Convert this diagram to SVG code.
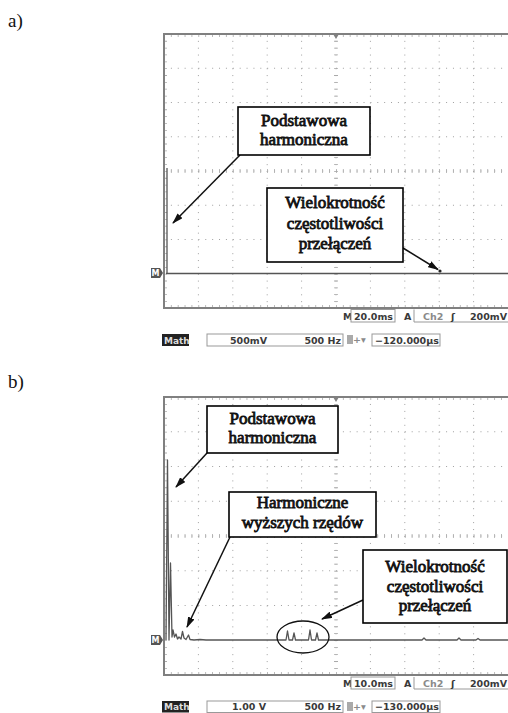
<svg xmlns="http://www.w3.org/2000/svg" width="508" height="713" viewBox="0 0 508 713">
<style>
.bg{fill:#fff}
.frame{fill:none;stroke:#808080;stroke-width:2}
.hg{stroke:#a0a0a0;stroke-width:1;stroke-dasharray:1 5.88;fill:none}
.vga{stroke:#a0a0a0;stroke-width:1;stroke-dasharray:1 5.85;fill:none}
.vgb{stroke:#a0a0a0;stroke-width:1;stroke-dasharray:1 5.95;fill:none}
.htick{stroke:#aaa;stroke-width:4;stroke-dasharray:0.8 6.08;fill:none}
.vticka{stroke:#aaa;stroke-width:4;stroke-dasharray:0.8 6.05;fill:none}
.vtickb{stroke:#aaa;stroke-width:4;stroke-dasharray:0.8 6.15;fill:none}
.etick{stroke:#aaa;stroke-width:3;stroke-dasharray:0.8 6.08;fill:none}
.eticka{stroke:#aaa;stroke-width:3;stroke-dasharray:0.8 6.05;fill:none}
.etickb{stroke:#aaa;stroke-width:3;stroke-dasharray:0.8 6.15;fill:none}
.trace{stroke:#555;stroke-width:1.3;fill:none;stroke-linejoin:round}
.box{fill:#fff;stroke:#000;stroke-width:1.6}
.lbl{font-family:"Liberation Serif","Times New Roman",serif;font-weight:normal;font-size:17px;fill:#111;stroke:#111;stroke-width:0.8;text-anchor:middle}
.cap{font-family:"Liberation Serif","Times New Roman",serif;font-size:19px;fill:#111}
.st{font-family:"DejaVu Sans",Verdana,sans-serif;font-weight:bold;font-size:9.5px;fill:#3a3a3a}
.stl{font-family:"DejaVu Sans",Verdana,sans-serif;font-weight:bold;font-size:9.5px;fill:#8a8a8a}
.sbox{fill:#fff;stroke:#999;stroke-width:1}
.math{fill:#222}
.mtxt{font-family:"DejaVu Sans",Verdana,sans-serif;font-weight:bold;font-size:9px;fill:#ddd}
.mk{fill:#555}
.mkt{font-family:"DejaVu Sans",sans-serif;font-weight:bold;font-size:8px;fill:#fff;text-anchor:middle}
.conn{stroke:#111;stroke-width:1.5;fill:none}
</style>
<defs>
<marker id="ah" markerUnits="userSpaceOnUse" markerWidth="11" markerHeight="7" refX="10" refY="3.5" orient="auto">
<path d="M0,0 L11,3.5 L0,7 z" fill="#111"/>
</marker>
</defs>
<rect class="bg" x="0" y="0" width="508" height="713"/>

<text class="cap" x="8" y="27">a)</text>
<text class="cap" x="8" y="388">b)</text>

<!-- Scope a -->
<g id="scope-a">
<g id="grid-a">
<path class="hg" d="M164,68.25H508M164,102.5H508M164,136.75H508M164,205.25H508M164,239.5H508"/>
<path class="vga" d="M198.4,34V308M232.8,34V308M267.2,34V308M301.6,34V308M370.4,34V308M404.8,34V308M439.2,34V308M473.6,34V308"/>
<path class="hg" d="M164,171H508"/>
<path class="htick" d="M164,171H508"/>
<path class="vga" d="M336,34V308"/>
<path class="vticka" d="M336,34V308"/>
<path class="etick" d="M164,35.5H508M164,306.5H508"/>
<path class="eticka" d="M165.5,34V308"/>
<rect class="frame" x="164" y="34" width="346" height="274"/>
<path d="M333,34 L339,34 L336,39 z" fill="#808080"/>
</g>
<g id="trace-a">
<path class="trace" d="M166,273.5 H508"/>
<path class="trace" d="M167,273 V168"/>
<circle cx="440" cy="271" r="1.6" fill="#222"/>
</g>
<g id="marker-a">
<path class="mk" d="M151,268 h9 l3,5 l-3,5 h-9 z"/>
<text class="mkt" x="155.5" y="276">M</text>
</g>
<g id="status-a">
<text class="st" x="343" y="320">M</text>
<rect class="sbox" x="351" y="309.5" width="44" height="12.5"/>
<text class="st" x="354" y="320">20.0ms</text>
<text class="st" x="404" y="320">A</text>
<path class="sbox" d="M414,309.5 V322 H508" fill="none"/>
<text class="stl" x="423" y="320">Ch2</text>
<text class="st" x="451" y="320">ʃ</text>
<text class="st" x="507" y="320" text-anchor="end">200mV</text>
<rect class="math" x="162" y="334" width="27" height="12"/>
<text class="mtxt" x="164" y="344">Math</text>
<rect class="sbox" x="207" y="334" width="136" height="12"/>
<text class="st" x="230" y="344">500mV</text>
<text class="st" x="341" y="344" text-anchor="end">500 Hz</text>
<rect x="347" y="335" width="6" height="9" fill="#aaa"/>
<text class="stl" x="353" y="343" font-size="8">+▾</text>
<rect class="sbox" x="372" y="334" width="68" height="12"/>
<text class="st" x="375" y="344">−120.000µs</text>
</g>
</g>

<!-- Scope b -->
<g id="scope-b">
<g id="grid-b">
<path class="hg" d="M164,431.75H508M164,466.5H508M164,501.25H508M164,570.75H508M164,605.5H508"/>
<path class="vgb" d="M198.4,397V675M232.8,397V675M267.2,397V675M301.6,397V675M370.4,397V675M404.8,397V675M439.2,397V675M473.6,397V675"/>
<path class="hg" d="M164,536H508"/>
<path class="htick" d="M164,536H508"/>
<path class="vgb" d="M336,397V675"/>
<path class="vtickb" d="M336,397V675"/>
<path class="etick" d="M164,398.5H508M164,673.5H508"/>
<path class="etickb" d="M165.5,397V675"/>
<rect class="frame" x="164" y="397" width="346" height="278"/>
<path d="M333,397 L339,397 L336,402 z" fill="#808080"/>
</g>
<g id="trace-b">
<path class="trace" d="M166,640 L167.5,460 L169,640 L170.5,563 L172,637 L173,630 L174.5,637 L176,634 L177.5,639 L179,637 L181,639 L182.5,631.5 L184,638 L186,639.5 L188.5,635 L190,639.5 L194,640 L200,639.5 L206,640 L286,640 L287.5,631 L289,640 L292.5,640 L294,633 L295.5,640 L308.5,640 L310,630 L311.5,640 L315.5,640 L317,633 L318.5,640 L422,640 L424,638 L426,640 L457,640 L459,638 L461,640 L476,640 L478,638.5 L480,640 L508,640"/>
<ellipse cx="303" cy="637" rx="26" ry="16" fill="none" stroke="#111" stroke-width="1.3"/>
</g>
<g id="marker-b">
<path class="mk" d="M151,635 h9 l3,5 l-3,5 h-9 z"/>
<text class="mkt" x="155.5" y="643">M</text>
</g>
<g id="status-b">
<text class="st" x="343" y="687">M</text>
<rect class="sbox" x="351" y="677" width="44" height="12"/>
<text class="st" x="354" y="687">10.0ms</text>
<text class="st" x="404" y="687">A</text>
<path class="sbox" d="M414,677 V689 H508" fill="none"/>
<text class="stl" x="423" y="687">Ch2</text>
<text class="st" x="451" y="687">ʃ</text>
<text class="st" x="507" y="687" text-anchor="end">200mV</text>
<rect class="math" x="162" y="701" width="27" height="11.5"/>
<text class="mtxt" x="164" y="710">Math</text>
<rect class="sbox" x="207" y="701" width="136" height="11.5"/>
<text class="st" x="232" y="710">1.00 V</text>
<text class="st" x="341" y="710" text-anchor="end">500 Hz</text>
<rect x="347" y="702" width="6" height="9" fill="#aaa"/>
<text class="stl" x="353" y="710" font-size="8">+▾</text>
<rect class="sbox" x="372" y="701" width="68" height="11.5"/>
<text class="st" x="375" y="710">−130.000µs</text>
</g>
</g>

<!-- Connectors -->
<g id="connectors">
<path class="conn" d="M240,155 L173,223" marker-end="url(#ah)"/>
<path class="conn" d="M403,248 L438,269.5" marker-end="url(#ah)"/>
<path class="conn" d="M207,453 L176,487" marker-end="url(#ah)"/>
<path class="conn" d="M230,537 L187,627" marker-end="url(#ah)"/>
<path class="conn" d="M363,600 L322,619" marker-end="url(#ah)"/>
</g>

<!-- Label nodes -->
<g id="label-a-podstawowa">
<rect class="box" x="238" y="107" width="132" height="48"/>
<text class="lbl" x="304" y="125.5">Podstawowa</text>
<text class="lbl" x="304" y="144.5">harmoniczna</text>
</g>
<g id="label-a-wielokrotnosc">
<rect class="box" x="267" y="188" width="136" height="74"/>
<text class="lbl" x="335" y="208">Wielokrotność</text>
<text class="lbl" x="335" y="228.5">częstotliwości</text>
<text class="lbl" x="335" y="249">przełączeń</text>
</g>
<g id="label-b-podstawowa">
<rect class="box" x="207" y="406" width="131" height="47"/>
<text class="lbl" x="272.5" y="424">Podstawowa</text>
<text class="lbl" x="272.5" y="443">harmoniczna</text>
</g>
<g id="label-b-harmoniczne">
<rect class="box" x="229" y="492" width="147" height="45"/>
<text class="lbl" x="302.5" y="508">Harmoniczne</text>
<text class="lbl" x="302.5" y="528">wyższych rzędów</text>
</g>
<g id="label-b-wielokrotnosc">
<rect class="box" x="363" y="550" width="144" height="73"/>
<text class="lbl" x="435" y="572">Wielokrotność</text>
<text class="lbl" x="435" y="592">częstotliwości</text>
<text class="lbl" x="435" y="611">przełączeń</text>
</g>
</svg>
